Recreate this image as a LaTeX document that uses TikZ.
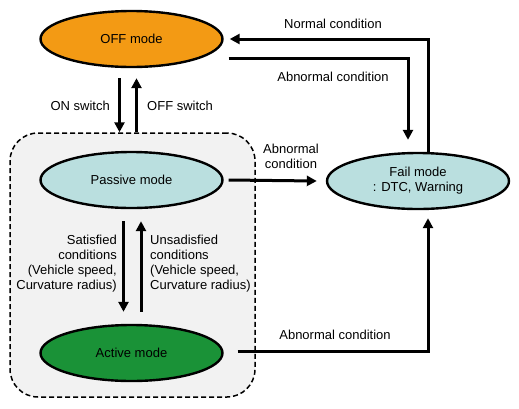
\documentclass[tikz,border=0pt]{standalone}
\usepackage{fontspec}
\setmainfont{Liberation Sans}
\usetikzlibrary{shapes.geometric,arrows.meta,positioning}
\definecolor{offorange}{HTML}{F39A14}
\definecolor{modecyan}{HTML}{BADFDF}
\definecolor{activegreen}{HTML}{1A9237}
\definecolor{groupgray}{HTML}{F2F2F2}

\begin{document}
\begin{tikzpicture}[x=1pt,y=-1pt,
    mode/.style={ellipse,draw,line width=2.4pt,minimum width=182pt,minimum height=56pt,
        inner sep=0pt,align=center,font=\fontsize{13}{15}\selectfont},
    flow/.style={line width=3pt,-{Triangle[length=10pt,width=10pt]}},
    txt/.style={inner sep=0pt,font=\fontsize{13}{15}\selectfont}]
    \useasboundingbox (0,0) rectangle (519,408);

    % Group of passive and active mode
    \node[draw,dash pattern=on 5pt off 3pt,line width=1.5pt,fill=groupgray,rounded corners=28pt,
        minimum width=245pt,minimum height=264pt] (group) at (132.5,265) {};

    % Modes
    \node[mode,fill=offorange] (off) at (131.5,39) {OFF mode};
    \node[mode,fill=modecyan] (passive) at (131.5,180) {Passive mode};
    \node[mode,fill=activegreen] (active) at (131.5,353) {Active mode};
    \node[mode,fill=modecyan] (fail) at (418,181) {Fail mode\\: DTC, Warning};

    % ON / OFF switch
    \draw[flow] ([xshift=-12pt,yshift=-10pt]off.south) -- ([xshift=-12pt]off.south |- group.north);
    \draw[flow] ([xshift=5pt]off.south |- group.north) -- ([xshift=5pt,yshift=-10pt]off.south);
    \node[txt,anchor=east] (onlbl) at (110,106) {ON switch};
    \node[txt,anchor=west] (offlbl) at (147,106) {OFF switch};

    % Passive <-> active
    \draw[flow] ([xshift=-8pt,yshift=-12pt]passive.south) -- ([xshift=-8pt,yshift=12pt]active.north);
    \draw[flow] ([xshift=9.5pt,yshift=12pt]active.north) -- ([xshift=9.5pt,yshift=-12pt]passive.south);
    \node[txt,align=right,anchor=east] (satlbl) at (117,264)
        {Satisfied\\conditions\hspace*{6pt}\\(Vehicle speed,\\Curvature radius)};
    \node[txt,align=left,anchor=west] (unsatlbl) at (150,264)
        {Unsadisfied\\conditions\\(Vehicle speed,\\Curvature radius)};

    % To and from fail mode
    \draw[flow] ([xshift=10pt]fail.north) |- ([xshift=6pt]off.east);
    \node[txt] (normlbl) at (333,24) {Normal condition};
    \draw[flow] ([xshift=5pt,yshift=-19pt]off.east) -| ([xshift=-10pt,yshift=12pt]fail.north);
    \node[txt] (abnlbl1) at (333,77) {Abnormal condition};
    \draw[flow] ([xshift=5pt]passive.east) -- ([xshift=-9pt]fail.west);
    \node[txt,align=center] (abnlbl2) at (291,156) {Abnormal\\condition};
    \draw[flow] ([xshift=14pt,yshift=2pt]active.east) -| ([xshift=10pt,yshift=-8pt]fail.south);
    \node[txt] (abnlbl3) at (335,335) {Abnormal condition};

\end{tikzpicture}
\end{document}
